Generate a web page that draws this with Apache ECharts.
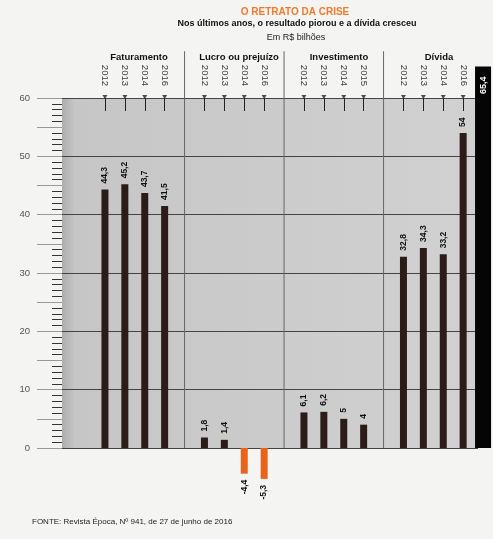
<!DOCTYPE html>
<html><head><meta charset="utf-8">
<script src="https://cdn.jsdelivr.net/npm/echarts@6/dist/echarts.min.js"></script>
<style>html,body{margin:0;padding:0;background:#f4f4f2}#c{width:493px;height:539px}</style>
</head><body><div id="c"></div>
<script>
// ---- data ----
const groups = ['Faturamento', 'Lucro ou prejuízo', 'Investimento', 'Dívida'];
const yearsFaturamento = ['2012', '2013', '2014', '2016'];
const yearsLucro = ['2012', '2013', '2014', '2016'];
const yearsInvestimento = ['2012', '2013', '2014', '2015'];
const yearsDivida = ['2012', '2013', '2014', '2016'];
const faturamento = [44.3, 45.2, 43.7, 41.5];
const lucro = [1.8, 1.4, -4.4, -5.3];
const investimento = [6.1, 6.2, 5, 4];
const divida = [32.8, 34.3, 33.2, 54];
const dividaReal = 65.4;
const yMin = 0, yMax = 60, yStep = 10;

// ---- build slots (4 bars + 1 gap per group) ----
const yearSets = [yearsFaturamento, yearsLucro, yearsInvestimento, yearsDivida];
const valueSets = [faturamento, lucro, investimento, divida];
const slots = [], barData = [], realData = [], dividerData = [], triData = [];
const DIV_TOP = 68;
groups.forEach((g, gi) => {
  yearSets[gi].forEach((y, yi) => {
    const v = valueSets[gi][yi];
    slots.push(y);
    barData.push({
      value: v,
      itemStyle: { color: v < 0 ? '#e8641c' : '#2b1c1a' },
      label: { position: v < 0 ? 'bottom' : 'top', align: v < 0 ? 'right' : 'left' }
    });
    realData.push('-');
    dividerData.push('-');
    triData.push(yMax);
  });
  slots.push('');
  barData.push('-');
  triData.push('-');
  if (gi < groups.length - 1) { dividerData.push(DIV_TOP); realData.push('-'); }
  else { dividerData.push('-'); realData.push(dividaReal); }
});

const fmt = v => String(v).replace('.', ',');
const FONT = 'Liberation Sans';
const TOP = 98, BOTTOM = 91;

const titles = [
  { text: 'O RETRATO DA CRISE', left: 290, top: 2, textAlign: 'center',
    textStyle: { color: '#ee7a2c', fontSize: 10, fontWeight: 'bold', fontFamily: FONT } },
  { text: 'Nos últimos anos, o resultado piorou e a dívida cresceu', left: 292, top: 14, textAlign: 'center',
    textStyle: { color: '#111', fontSize: 9, fontWeight: 'bold', fontFamily: FONT } },
  { text: 'Em R$ bilhões', left: 291, top: 28, textAlign: 'center',
    textStyle: { color: '#222', fontSize: 9, fontWeight: 'normal', fontFamily: FONT } },
  { text: 'FONTE: Revista Época, Nº 941, de 27 de junho de 2016', left: 27, top: 513,
    textStyle: { color: '#222', fontSize: 8, fontWeight: 'normal', fontFamily: FONT } }
];
groups.forEach((g, gi) => titles.push({
  text: g, left: 134 + 100 * gi, top: 47, textAlign: 'center',
  textStyle: { color: '#111', fontSize: 9.5, fontWeight: 'bold', fontFamily: FONT }
}));

const hiddenCat = (gridIndex, position) => ({
  type: 'category', gridIndex, position, data: slots, boundaryGap: true,
  axisLine: { show: false, onZero: false }, axisTick: { show: false }, axisLabel: { show: false }, splitLine: { show: false }
});

const option = {
  backgroundColor: '#f4f4f2',
  animation: false,
  title: titles,
  grid: [
    { left: 62, right: 15, top: TOP, bottom: BOTTOM, show: true, borderWidth: 0,
      backgroundColor: new echarts.graphic.LinearGradient(0, 0, 1, 0, [
        { offset: 0, color: '#adadad' }, { offset: 0.03, color: '#c6c6c6' }, { offset: 1, color: '#d1d1d1' }
      ]) },
    { left: 95, right: -2, top: TOP, bottom: BOTTOM }
  ],
  xAxis: [
    { type: 'value', gridIndex: 0, show: false, position: 'bottom' },
    { type: 'category', gridIndex: 1, position: 'top', data: slots, boundaryGap: true,
      axisLine: { show: false, onZero: false },
      axisTick: { show: true, inside: true, length: 13, alignWithLabel: true,
        interval: (i, v) => v !== '', lineStyle: { color: '#222', width: 1 } },
      axisLabel: { interval: 0, rotate: 90, margin: 12, fontSize: 9.5, color: '#3a3a3a', fontFamily: FONT },
      splitLine: { show: false } },
    hiddenCat(1, 'bottom'),
    hiddenCat(1, 'bottom')
  ],
  yAxis: [
    { type: 'value', gridIndex: 0, position: 'left', min: yMin, max: yMax, interval: yStep,
      axisLine: { show: false, onZero: false },
      axisTick: { show: true, length: 25, lineStyle: { color: '#333' } },
      minorTick: { show: true, splitNumber: 10, length: 10, lineStyle: { color: '#333' } },
      axisLabel: { margin: 32, fontSize: 9.5, color: '#555', fontFamily: FONT },
      splitLine: { show: true, lineStyle: { color: '#444', width: 1 } } },
    { type: 'value', gridIndex: 0, position: 'left', offset: 0, min: yMin, max: yMax, interval: yStep / 2,
      axisLine: { show: false, onZero: false },
      axisTick: { show: true, length: 25, lineStyle: { color: '#999' } },
      axisLabel: { show: false }, splitLine: { show: false } },
    { type: 'value', gridIndex: 1, position: 'left', min: yMin, max: yMax, show: false }
  ],
  series: [
    { type: 'bar', name: 'divisórias', xAxisIndex: 3, yAxisIndex: 2, data: dividerData,
      barWidth: 1, clip: false, z: 1, itemStyle: { color: '#666' }, silent: true },
    { type: 'bar', name: 'valores', xAxisIndex: 1, yAxisIndex: 2, data: barData,
      barWidth: 7, clip: false, z: 3,
      label: { show: true, rotate: 90, verticalAlign: 'middle', distance: 6,
        formatter: p => fmt(p.value), fontSize: 8.5, fontWeight: 'bold', color: '#111', fontFamily: FONT } },
    { type: 'bar', name: 'Dívida 2016', xAxisIndex: 2, yAxisIndex: 2, data: realData,
      barWidth: 16, clip: false, z: 4, itemStyle: { color: '#050505' },
      label: { show: true, position: 'insideTop', rotate: 90, align: 'right', verticalAlign: 'middle',
        distance: 10, formatter: p => fmt(p.value), fontSize: 9, fontWeight: 'bold', color: '#fff', fontFamily: FONT } },
    { type: 'scatter', name: 'marcas', xAxisIndex: 1, yAxisIndex: 2, data: triData,
      symbol: 'triangle', symbolRotate: 180, symbolSize: [5, 4], symbolOffset: [0, -1],
      clip: false, z: 5, itemStyle: { color: '#222' }, silent: true }
  ]
};
echarts.init(document.getElementById('c')).setOption(option);
</script></body></html>
